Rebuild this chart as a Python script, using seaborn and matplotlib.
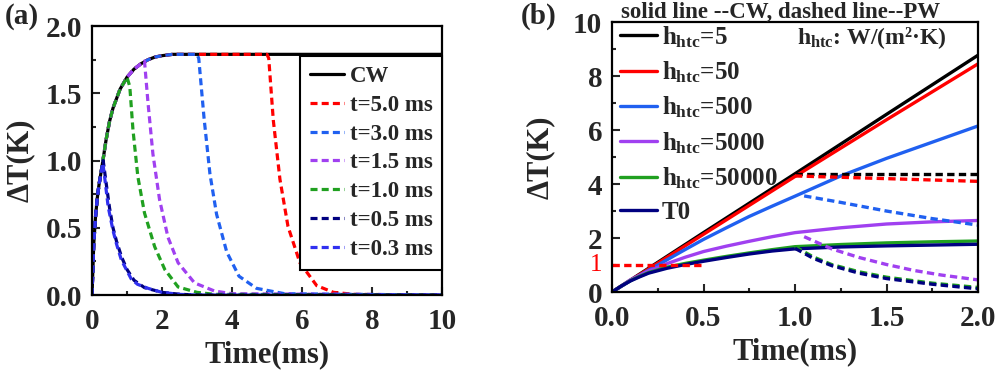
import matplotlib
matplotlib.use("Agg")
import matplotlib.pyplot as plt
import seaborn as sns

# --- panel (a): CW vs pulsed heating of different lengths ---
t_cw = [0, 0.05, 0.1, 0.15, 0.2, 0.3, 0.4, 0.5, 0.6, 0.8, 1.0, 1.2, 1.4, 1.6, 1.8, 2.0, 2.3, 2.6, 3.0, 4.0, 10.0]
y_cw = [0, 0.38, 0.58, 0.72, 0.82, 0.98, 1.15, 1.29, 1.39, 1.53, 1.62, 1.68, 1.72, 1.75, 1.77, 1.78, 1.79, 1.79, 1.79, 1.79, 1.79]

t_p50 = [0, 0.05, 0.1, 0.15, 0.2, 0.3, 0.4, 0.5, 0.6, 0.8, 1.0, 1.2, 1.4, 1.6, 1.8, 2.0, 2.3, 2.6, 3.0, 4.0, 5.0, 5.05, 5.18, 5.37, 5.6, 5.94, 6.42, 6.9, 7.5, 10.0]
y_p50 = [0, 0.38, 0.58, 0.72, 0.82, 0.98, 1.15, 1.29, 1.39, 1.53, 1.62, 1.68, 1.72, 1.75, 1.77, 1.78, 1.79, 1.79, 1.79, 1.79, 1.79, 1.76, 1.3, 0.86, 0.51, 0.24, 0.07, 0.02, 0.005, 0]

t_p30 = [0, 0.05, 0.1, 0.15, 0.2, 0.3, 0.4, 0.5, 0.6, 0.8, 1.0, 1.2, 1.4, 1.6, 1.8, 2.0, 2.3, 2.6, 3.0, 3.05, 3.2, 3.37, 3.56, 3.85, 4.2, 4.7, 5.5, 10.0]
y_p30 = [0, 0.38, 0.58, 0.72, 0.82, 0.98, 1.15, 1.29, 1.39, 1.53, 1.62, 1.68, 1.72, 1.75, 1.77, 1.78, 1.79, 1.79, 1.79, 1.76, 1.32, 0.9, 0.6, 0.32, 0.14, 0.05, 0.01, 0]

t_p15 = [0, 0.05, 0.1, 0.15, 0.2, 0.3, 0.4, 0.5, 0.6, 0.8, 1.0, 1.2, 1.4, 1.5, 1.6, 1.74, 1.93, 2.17, 2.46, 2.93, 3.5, 4.0, 10.0]
y_p15 = [0, 0.38, 0.58, 0.72, 0.82, 0.98, 1.15, 1.29, 1.39, 1.53, 1.62, 1.68, 1.72, 1.74, 1.43, 1.05, 0.71, 0.43, 0.24, 0.09, 0.03, 0.01, 0]

t_p10 = [0, 0.05, 0.1, 0.15, 0.2, 0.3, 0.4, 0.5, 0.6, 0.8, 1.0, 1.08, 1.17, 1.31, 1.5, 1.79, 2.08, 2.46, 3.0, 3.5, 10.0]
y_p10 = [0, 0.38, 0.58, 0.72, 0.82, 0.98, 1.15, 1.29, 1.39, 1.53, 1.62, 1.55, 1.23, 0.88, 0.61, 0.36, 0.19, 0.06, 0.02, 0.005, 0]

t_p05 = [0, 0.05, 0.1, 0.15, 0.2, 0.32, 0.4, 0.5, 0.6, 0.7, 0.85, 1.0, 1.2, 1.5, 2.0, 2.5, 3.0, 10.0]
y_p05 = [0, 0.38, 0.58, 0.72, 0.82, 1.0, 0.84, 0.65, 0.5, 0.4, 0.28, 0.19, 0.11, 0.055, 0.02, 0.006, 0, 0]

t_p03 = [0, 0.05, 0.1, 0.15, 0.2, 0.31, 0.36, 0.46, 0.6, 0.7, 0.84, 1.0, 1.12, 1.3, 1.6, 2.0, 2.5, 3.0, 10.0]
y_p03 = [0, 0.38, 0.58, 0.72, 0.82, 0.98, 0.88, 0.66, 0.48, 0.38, 0.26, 0.18, 0.12, 0.08, 0.05, 0.02, 0.005, 0, 0]

labels_a = ["t=5.0 ms", "t=3.0 ms", "t=1.5 ms", "t=1.0 ms", "t=0.5 ms", "t=0.3 ms"]
colors_a = ["#FF0000", "#2060F0", "#A040F0", "#20A020", "#000080", "#3030F0"]

# --- panel (b): heat transfer coefficient, CW (solid) and PW (dashed) ---
t_lin = [0, 0.5, 1.0, 1.5, 2.0]
cw_h5 = [0, 2.2, 4.38, 6.58, 8.77]
cw_h50 = [0, 2.14, 4.28, 6.38, 8.45]
t_h500 = [0, 0.125, 0.25, 0.375, 0.5, 0.625, 0.75, 0.875, 1.0, 1.25, 1.5, 1.75, 2.0]
cw_h500 = [0, 0.52, 1.0, 1.48, 1.95, 2.38, 2.8, 3.18, 3.55, 4.3, 4.95, 5.55, 6.15]
t_h5000 = [0, 0.1, 0.2, 0.3, 0.4, 0.5, 0.625, 0.75, 0.875, 1.0, 1.25, 1.5, 1.75, 2.0]
cw_h5000 = [0, 0.45, 0.78, 1.05, 1.29, 1.5, 1.7, 1.88, 2.05, 2.2, 2.38, 2.52, 2.6, 2.65]
t_low = [0, 0.05, 0.1, 0.15, 0.2, 0.3, 0.4, 0.5, 0.625, 0.75, 0.875, 1.0, 1.25, 1.5, 1.75, 2.0]
cw_h50000 = [0, 0.22, 0.42, 0.58, 0.72, 0.92, 1.06, 1.18, 1.32, 1.45, 1.57, 1.68, 1.76, 1.82, 1.86, 1.89]
cw_t0 = [0, 0.22, 0.41, 0.56, 0.7, 0.88, 1.02, 1.14, 1.28, 1.41, 1.52, 1.6, 1.67, 1.71, 1.74, 1.77]

pw_t_h5 = [1.0, 2.0]
pw_h5 = [4.38, 4.38]
pw_t_h50 = [1.0, 1.25, 1.5, 1.75, 2.0]
pw_h50 = [4.3, 4.25, 4.2, 4.15, 4.1]
pw_t_h500 = [1.05, 1.25, 1.5, 1.75, 2.0]
pw_h500 = [3.56, 3.32, 3.0, 2.72, 2.48]
pw_t_h5000 = [1.05, 1.2, 1.35, 1.5, 1.65, 1.8, 2.0]
pw_h5000 = [2.05, 1.6, 1.28, 1.02, 0.8, 0.63, 0.45]
pw_t_low = [1.0, 1.1, 1.2, 1.35, 1.5, 1.75, 2.0]
pw_h50000 = [1.68, 1.3, 1.02, 0.75, 0.55, 0.33, 0.17]
pw_t0 = [1.62, 1.25, 0.98, 0.7, 0.5, 0.29, 0.12]

ref_t = [0, 0.5]
ref_y = [1, 1]

labels_b = ["5", "50", "500", "5000", "50000"]
colors_b = ["#000000", "#FF0000", "#2060F0", "#A040F0", "#20A020", "#000080"]

sns.set_theme(style="ticks")
plt.rcParams["font.family"] = ["Liberation Serif", "DejaVu Serif"]
plt.rcParams["font.weight"] = "bold"
plt.rcParams["axes.labelweight"] = "bold"
plt.rcParams["mathtext.fontset"] = "custom"
plt.rcParams["mathtext.rm"] = "Liberation Serif:bold"
plt.rcParams["mathtext.it"] = "Liberation Serif:bold"
plt.rcParams["mathtext.bf"] = "Liberation Serif:bold"

fig = plt.figure(figsize=(10, 3.73), dpi=100)
ax1 = fig.add_axes([0.092, 0.209, 0.350, 0.721])
ax2 = fig.add_axes([0.612, 0.217, 0.366, 0.724])

dash = (0, (2.2, 1.3))
lw = 2.3

# panel (a)
sns.lineplot(x=t_cw, y=y_cw, ax=ax1, color="black", lw=lw, label="CW", sort=False, estimator=None)
series_a = [(t_p50, y_p50), (t_p30, y_p30), (t_p15, y_p15), (t_p10, y_p10), (t_p05, y_p05), (t_p03, y_p03)]
for (tx, ty), lab, col in zip(series_a, labels_a, colors_a):
    sns.lineplot(x=tx, y=ty, ax=ax1, color=col, lw=lw, linestyle=dash, label=lab, sort=False, estimator=None)

ax1.set_xlim(0, 10)
ax1.set_ylim(0, 2.0)
ax1.set_xticks([0, 2, 4, 6, 8, 10])
ax1.set_xticks([1, 3, 5, 7, 9], minor=True)
ax1.set_yticks([0, 0.5, 1.0, 1.5, 2.0])
ax1.set_yticks([0.25, 0.75, 1.25, 1.75], minor=True)
ax1.set_yticklabels(["0.0", "0.5", "1.0", "1.5", "2.0"])
ax1.set_xlabel("Time(ms)", fontsize=22, labelpad=4)
ax1.set_ylabel("ΔT(K)", fontsize=22, labelpad=8)
leg1 = ax1.legend(loc="upper right", bbox_to_anchor=(1.0, 0.888), borderaxespad=0,
                  fontsize=16.5, handlelength=1.5, handletextpad=0.25, labelspacing=0.34,
                  fancybox=False, framealpha=1, edgecolor="black", borderpad=0.42)
leg1.get_frame().set_linewidth(1.5)

# panel (b)
cw_series = [(t_lin, cw_h5), (t_lin, cw_h50), (t_h500, cw_h500), (t_h5000, cw_h5000), (t_low, cw_h50000)]
for (tx, ys), lab, col in zip(cw_series, labels_b, colors_b):
    sns.lineplot(x=tx, y=ys, ax=ax2, color=col, lw=2.4, label=r"$h_{htc}$=" + lab, sort=False, estimator=None)
sns.lineplot(x=t_low, y=cw_t0, ax=ax2, color=colors_b[5], lw=2.4, label="T0", sort=False, estimator=None)

pw_series = [(pw_t_h5, pw_h5), (pw_t_h50, pw_h50), (pw_t_h500, pw_h500), (pw_t_h5000, pw_h5000),
             (pw_t_low, pw_h50000), (pw_t_low, pw_t0)]
for (tx, ty), col in zip(pw_series, colors_b):
    sns.lineplot(x=tx, y=ty, ax=ax2, color=col, lw=2.4, linestyle=dash, sort=False, estimator=None)
sns.lineplot(x=ref_t, y=ref_y, ax=ax2, color="#FF0000", lw=2.4, linestyle=dash, sort=False, estimator=None)

ax2.set_xlim(0, 2.0)
ax2.set_ylim(0, 10)
ax2.set_xticks([0, 0.5, 1.0, 1.5, 2.0])
ax2.set_xticklabels(["0.0", "0.5", "1.0", "1.5", "2.0"])
ax2.set_xticks([0.25, 0.75, 1.25, 1.75], minor=True)
ax2.set_yticks([0, 2, 4, 6, 8, 10])
ax2.set_yticks([1, 3, 5, 7, 9], minor=True)
ax2.set_xlabel("Time(ms)", fontsize=22, labelpad=4)
ax2.set_ylabel("ΔT(K)", fontsize=22, labelpad=13)
ax2.legend(loc="upper left", bbox_to_anchor=(0.0, 1.02), borderaxespad=0.1, frameon=False,
           fontsize=18, handlelength=1.5, handletextpad=0.2, labelspacing=0.39, borderpad=0.2)
ax2.text(-0.05, 1, "1", color="#FF0000", fontsize=18, fontweight="normal",
         ha="right", va="center")
ax2.text(0.915, 0.94, r"$h_{htc}$: W/(m²·K)", transform=ax2.transAxes, fontsize=17,
         ha="right", va="center")

for ax in (ax1, ax2):
    ax.tick_params(which="both", direction="in", labelsize=21, width=1.5, top=False, right=False)
    ax.tick_params(axis="x", which="both", pad=9)
    ax.tick_params(axis="y", which="both", pad=7)
    ax.tick_params(which="major", length=6)
    ax.tick_params(which="minor", length=3)
    for sp in ax.spines.values():
        sp.set_linewidth(1.6)
        sp.set_color("black")

fig.text(0.781, 0.966, "solid line --CW, dashed line--PW", fontsize=16.5, ha="center", va="center")
fig.text(0.005, 0.955, "(a)", fontsize=21, ha="left", va="center")
fig.text(0.521, 0.955, "(b)", fontsize=21, ha="left", va="center")

fig.savefig("out.png", dpi=100)
